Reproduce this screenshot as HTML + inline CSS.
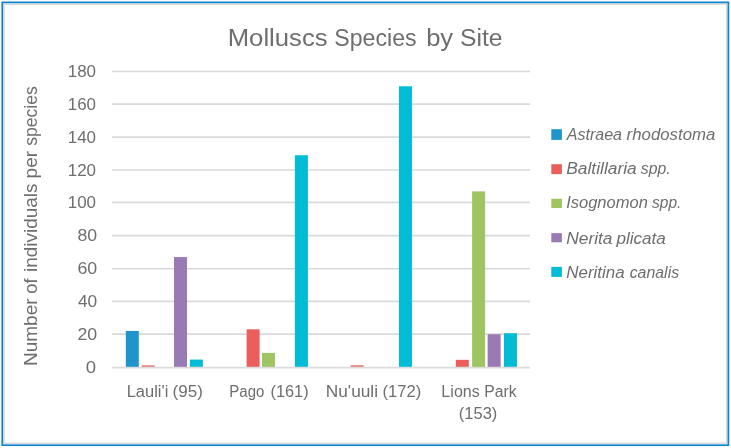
<!DOCTYPE html>
<html><head><meta charset="utf-8"><title>Molluscs Species by Site</title>
<style>
html,body{margin:0;padding:0;background:#fff;}
body{width:731px;height:448px;overflow:hidden;}
svg{display:block;}
svg text{font-family:"Liberation Sans",sans-serif;fill:#6e6e6e;}
</style></head><body>
<svg width="731" height="448" viewBox="0 0 731 448">
<rect x="0" y="0" width="731" height="448" fill="#fff"/>
<rect x="3.85" y="4.1" width="722.9" height="439.25" fill="none" stroke="#dbdad8" stroke-width="1.7"/>
<rect x="2.25" y="2.35" width="726.15" height="442.85" fill="none" stroke="#0a84d0" stroke-width="1.65"/>
<line x1="112.0" x2="530.0" y1="71.50" y2="71.50" stroke="#d9d9d9" stroke-width="1.7"/>
<line x1="112.0" x2="530.0" y1="104.04" y2="104.04" stroke="#d9d9d9" stroke-width="1.7"/>
<line x1="112.0" x2="530.0" y1="137.08" y2="137.08" stroke="#d9d9d9" stroke-width="1.7"/>
<line x1="112.0" x2="530.0" y1="170.02" y2="170.02" stroke="#d9d9d9" stroke-width="1.7"/>
<line x1="112.0" x2="530.0" y1="202.46" y2="202.46" stroke="#d9d9d9" stroke-width="1.7"/>
<line x1="112.0" x2="530.0" y1="235.70" y2="235.70" stroke="#d9d9d9" stroke-width="1.7"/>
<line x1="112.0" x2="530.0" y1="268.74" y2="268.74" stroke="#d9d9d9" stroke-width="1.7"/>
<line x1="112.0" x2="530.0" y1="301.38" y2="301.38" stroke="#d9d9d9" stroke-width="1.7"/>
<line x1="112.0" x2="530.0" y1="334.22" y2="334.22" stroke="#d9d9d9" stroke-width="1.7"/>
<rect x="125.80" y="330.94" width="13.0" height="36.12" fill="#1f95cb"/>
<rect x="141.70" y="365.25" width="13.0" height="1.81" fill="#ee7b78"/>
<rect x="174.00" y="257.05" width="13.0" height="110.01" fill="#9a7ab5"/>
<rect x="189.85" y="359.59" width="13.0" height="7.47" fill="#00bcd4"/>
<rect x="246.60" y="329.29" width="13.0" height="37.77" fill="#ea5f5c"/>
<rect x="262.00" y="352.86" width="13.0" height="14.20" fill="#9fc563"/>
<rect x="294.90" y="155.24" width="13.0" height="211.82" fill="#00bcd4"/>
<rect x="350.65" y="365.17" width="13.0" height="1.89" fill="#ee7b78"/>
<rect x="398.95" y="86.28" width="13.0" height="280.78" fill="#00bcd4"/>
<rect x="455.80" y="359.84" width="13.0" height="7.22" fill="#ea5f5c"/>
<rect x="472.10" y="191.37" width="13.0" height="175.69" fill="#9fc563"/>
<rect x="487.65" y="334.22" width="13.0" height="32.84" fill="#9a7ab5"/>
<rect x="503.95" y="333.23" width="13.0" height="33.83" fill="#00bcd4"/>
<line x1="112.0" x2="530.0" y1="367.6" y2="367.6" stroke="#dbdbdb" stroke-width="1.9"/>
<text x="85.77" y="372.66" font-size="15.6" textLength="10.35" lengthAdjust="spacingAndGlyphs">0</text>
<text x="77.41" y="339.82" font-size="15.6" textLength="19.79" lengthAdjust="spacingAndGlyphs">20</text>
<text x="77.90" y="306.98" font-size="15.6" textLength="19.27" lengthAdjust="spacingAndGlyphs">40</text>
<text x="77.40" y="274.14" font-size="15.6" textLength="19.80" lengthAdjust="spacingAndGlyphs">60</text>
<text x="77.53" y="241.30" font-size="15.6" textLength="19.66" lengthAdjust="spacingAndGlyphs">80</text>
<text x="67.71" y="208.46" font-size="15.6" textLength="28.36" lengthAdjust="spacingAndGlyphs">100</text>
<text x="67.71" y="175.62" font-size="15.6" textLength="28.36" lengthAdjust="spacingAndGlyphs">120</text>
<text x="67.71" y="142.78" font-size="15.6" textLength="28.36" lengthAdjust="spacingAndGlyphs">140</text>
<text x="67.71" y="109.94" font-size="15.6" textLength="28.36" lengthAdjust="spacingAndGlyphs">160</text>
<text x="67.71" y="77.10" font-size="15.6" textLength="28.36" lengthAdjust="spacingAndGlyphs">180</text>
<text x="227.74" y="46.30" font-size="24.6" textLength="99.88" lengthAdjust="spacingAndGlyphs">Molluscs</text>
<text x="334.25" y="46.30" font-size="24.6" textLength="82.39" lengthAdjust="spacingAndGlyphs">Species</text>
<text x="426.15" y="46.30" font-size="24.6" textLength="27.00" lengthAdjust="spacingAndGlyphs">by</text>
<text x="460.08" y="46.30" font-size="24.6" textLength="42.52" lengthAdjust="spacingAndGlyphs">Site</text>
<g transform="translate(36.9,400) rotate(-90)">
<text x="33.94" y="0.00" font-size="18.6" textLength="67.68" lengthAdjust="spacingAndGlyphs">Number</text>
<text x="106.23" y="0.00" font-size="18.6" textLength="15.24" lengthAdjust="spacingAndGlyphs">of</text>
<text x="127.93" y="0.00" font-size="18.6" textLength="88.66" lengthAdjust="spacingAndGlyphs">individuals</text>
<text x="221.57" y="0.00" font-size="18.6" textLength="27.54" lengthAdjust="spacingAndGlyphs">per</text>
<text x="254.21" y="0.00" font-size="18.6" textLength="59.62" lengthAdjust="spacingAndGlyphs">species</text>
</g>
<text x="126.65" y="396.60" font-size="15.6" textLength="41.66" lengthAdjust="spacingAndGlyphs">Lauli'i</text>
<text x="172.54" y="396.60" font-size="15.6" textLength="30.31" lengthAdjust="spacingAndGlyphs">(95)</text>
<text x="229.27" y="396.60" font-size="15.6" textLength="35.06" lengthAdjust="spacingAndGlyphs">Pago</text>
<text x="270.44" y="396.60" font-size="15.6" textLength="38.13" lengthAdjust="spacingAndGlyphs">(161)</text>
<text x="325.78" y="396.60" font-size="15.6" textLength="52.28" lengthAdjust="spacingAndGlyphs">Nu'uuli</text>
<text x="382.57" y="396.60" font-size="15.6" textLength="38.65" lengthAdjust="spacingAndGlyphs">(172)</text>
<text x="441.38" y="396.60" font-size="15.6" textLength="38.40" lengthAdjust="spacingAndGlyphs">Lions</text>
<text x="484.31" y="396.60" font-size="15.6" textLength="32.37" lengthAdjust="spacingAndGlyphs">Park</text>
<text x="458.78" y="418.80" font-size="15.6" textLength="38.55" lengthAdjust="spacingAndGlyphs">(153)</text>
<rect x="551.3" y="129.20" width="10.6" height="10.70" fill="#1f95cb"/>
<text x="566.69" y="139.60" font-size="15.6" font-style="italic" textLength="55.36" lengthAdjust="spacingAndGlyphs">Astraea</text>
<text x="626.62" y="139.60" font-size="15.6" font-style="italic" textLength="88.75" lengthAdjust="spacingAndGlyphs">rhodostoma</text>
<rect x="551.3" y="164.20" width="10.6" height="9.90" fill="#ea5f5c"/>
<text x="566.27" y="173.82" font-size="15.6" font-style="italic" textLength="70.43" lengthAdjust="spacingAndGlyphs">Baltillaria</text>
<text x="640.86" y="173.82" font-size="15.6" font-style="italic" textLength="29.88" lengthAdjust="spacingAndGlyphs">spp.</text>
<rect x="551.3" y="198.70" width="10.6" height="9.35" fill="#9fc563"/>
<text x="566.15" y="207.64" font-size="15.6" font-style="italic" textLength="81.70" lengthAdjust="spacingAndGlyphs">Isognomon</text>
<text x="652.06" y="207.64" font-size="15.6" font-style="italic" textLength="29.34" lengthAdjust="spacingAndGlyphs">spp.</text>
<rect x="551.3" y="233.15" width="10.6" height="9.15" fill="#9a7ab5"/>
<text x="566.27" y="243.61" font-size="15.6" font-style="italic" textLength="46.23" lengthAdjust="spacingAndGlyphs">Nerita</text>
<text x="616.43" y="243.61" font-size="15.6" font-style="italic" textLength="49.46" lengthAdjust="spacingAndGlyphs">plicata</text>
<rect x="551.3" y="266.90" width="10.6" height="10.00" fill="#00bcd4"/>
<text x="566.28" y="278.08" font-size="15.6" font-style="italic" textLength="58.30" lengthAdjust="spacingAndGlyphs">Neritina</text>
<text x="629.68" y="278.08" font-size="15.6" font-style="italic" textLength="49.45" lengthAdjust="spacingAndGlyphs">canalis</text>
</svg>
</body></html>
